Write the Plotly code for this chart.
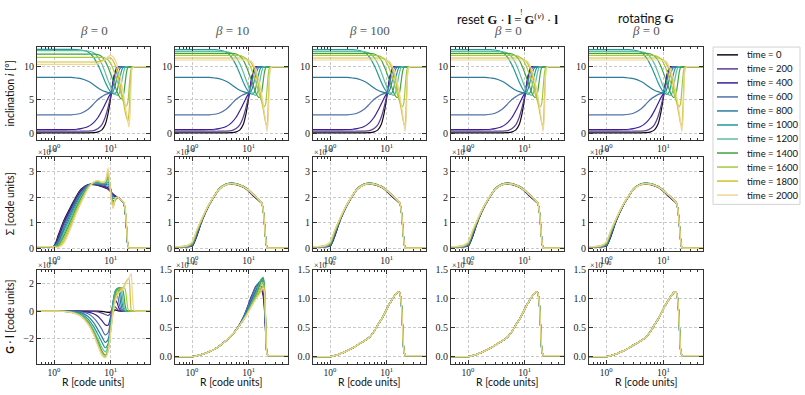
import plotly.graph_objects as go
from plotly.subplots import make_subplots

# radius grid the curves were read on (code units)
R_GRID = [0.5, 0.8, 1.0, 1.2, 1.5, 2.0, 2.5, 3.0, 4.0, 5.0, 6.0, 7.0, 8.0, 9.0, 10.0, 11.0,
          12.0, 13.0, 14.0, 15.0, 16.0, 17.0, 18.0, 19.0, 20.0, 21.0, 22.0, 23.0, 24.0, 26.0, 30.0, 50.0]

TIMES = [0, 200, 400, 600, 800, 1000, 1200, 1400, 1600, 1800, 2000]
LINE_COLORS = ['#0f0a18', '#5d3d8f', '#3a1f9a', '#4f72aa', '#2d7c9c', '#1e9a98',
               '#5ebe9e', '#3fa33f', '#a2cc3e', '#cfc12c', '#efd596']

BETAS = [0, 10, 100, 0, 0]

# inclination [deg], beta = 0
INC_BETA0 = [
    [0.05, 0.05, 0.05, 0.05, 0.05, 0.05, 0.05, 0.05, 0.05, 0.08, 0.2, 0.5, 1.3, 3.0, 5.3, 7.6,
     9.2, 9.9, 10, 10, 10, 10, 10, 10, 10, 10, 10, 10, 10, 10, 10, 10],
    [0.3, 0.3, 0.3, 0.3, 0.3, 0.3, 0.3, 0.3, 0.32, 0.4, 0.7, 1.3, 2.4, 3.9, 5.6, 7.7,
     9.3, 9.95, 10, 10, 10, 10, 10, 10, 10, 10, 10, 10, 10, 10, 10, 10],
    [0.55, 0.55, 0.55, 0.55, 0.55, 0.56, 0.6, 0.7, 1.0, 1.6, 2.4, 3.4, 4.4, 5.3, 6.0, 7.7,
     9.2, 9.9, 10, 10, 10, 10, 10, 10, 10, 10, 10, 10, 10, 10, 10, 10],
    [2.75, 2.75, 2.75, 2.75, 2.75, 2.77, 2.85, 3.0, 3.6, 4.4, 5.1, 5.5, 5.8, 5.95, 6.1, 7.1,
     8.5, 9.5, 9.9, 10, 10, 10, 10, 10, 10, 10, 10, 10, 10, 10, 10, 10],
    [8.4, 8.4, 8.4, 8.4, 8.4, 8.38, 8.3, 8.2, 7.8, 7.3, 6.8, 6.45, 6.25, 6.12, 6.1, 6.3,
     7.2, 8.5, 9.4, 9.85, 10, 10, 10, 10, 10, 10, 10, 10, 10, 10, 10, 10],
    [12.6, 12.6, 12.6, 12.6, 12.6, 12.6, 12.58, 12.5, 12.2, 11.4, 10.2, 8.9, 7.7, 6.8, 6.2, 5.95,
     5.95, 6.5, 7.7, 8.9, 9.7, 10, 10, 10, 10, 10, 10, 10, 10, 10, 10, 10],
    [12.4, 12.4, 12.4, 12.4, 12.4, 12.4, 12.4, 12.4, 12.35, 12.1, 11.4, 10.4, 9.1, 7.9, 7.0, 6.3,
     5.9, 5.7, 5.9, 6.9, 8.2, 9.3, 9.9, 10, 10, 10, 10, 10, 10, 10, 10, 10],
    [11.9, 11.9, 11.9, 11.9, 11.9, 11.9, 11.9, 11.9, 11.9, 11.9, 11.8, 11.5, 10.8, 9.9, 8.9, 7.9,
     7.0, 6.2, 5.6, 5.2, 5.2, 6.0, 7.6, 9.1, 9.9, 10, 10, 10, 10, 10, 10, 10],
    [11.4, 11.4, 11.4, 11.4, 11.4, 11.4, 11.4, 11.4, 11.4, 11.4, 11.4, 11.4, 11.3, 11.0, 10.5, 9.7,
     8.8, 7.9, 7.0, 6.1, 5.3, 4.6, 4.2, 4.1, 4.6, 6.5, 8.6, 9.7, 10, 10, 10, 10],
    [10.7, 10.7, 10.7, 10.7, 10.7, 10.7, 10.7, 10.7, 10.7, 10.7, 10.75, 10.9, 11.1, 11.3, 11.3, 10.9,
     10.2, 9.2, 8.0, 6.8, 5.6, 4.4, 3.2, 2.4, 1.8, 3.0, 6.5, 9.2, 9.9, 10, 10, 10],
    [10.35, 10.35, 10.35, 10.35, 10.35, 10.35, 10.35, 10.35, 10.35, 10.35, 10.45, 10.7, 11.1, 11.5, 11.7, 11.5,
     11.0, 10.2, 9.2, 8.1, 6.9, 5.6, 4.3, 3.0, 1.9, 0.9, 3.0, 8.0, 9.8, 10, 10, 10],
]

# inclination [deg], beta = 10 / 100 / reset / rotating (visually identical)
INC_BETA = INC_BETA0[:5] + [
    [12.55, 12.55, 12.55, 12.55, 12.55, 12.55, 12.55, 12.5, 12.2, 11.4, 10.2, 8.9, 7.7, 6.8, 6.2, 5.9,
     5.9, 6.5, 7.7, 8.9, 9.7, 10, 10, 10, 10, 10, 10, 10, 10, 10, 10, 10],
    [12.3, 12.3, 12.3, 12.3, 12.3, 12.3, 12.3, 12.3, 12.25, 12.0, 11.4, 10.4, 9.2, 8.0, 7.0, 6.3,
     5.9, 5.7, 5.9, 6.9, 8.2, 9.3, 9.9, 10, 10, 10, 10, 10, 10, 10, 10, 10],
    [12.0, 12.0, 12.0, 12.0, 12.0, 12.0, 12.0, 12.0, 12.0, 12.0, 11.9, 11.6, 11.0, 10.1, 9.1, 8.1,
     7.2, 6.3, 5.7, 5.4, 5.4, 6.3, 7.8, 9.2, 9.9, 10, 10, 10, 10, 10, 10, 10],
    [11.7, 11.7, 11.7, 11.7, 11.7, 11.7, 11.7, 11.7, 11.7, 11.7, 11.7, 11.65, 11.5, 11.2, 10.6, 9.8,
     8.9, 8.0, 7.1, 6.2, 5.4, 4.7, 4.2, 4.0, 4.5, 6.5, 8.6, 9.7, 10, 10, 10, 10],
    [11.3, 11.3, 11.3, 11.3, 11.3, 11.3, 11.3, 11.3, 11.3, 11.3, 11.3, 11.3, 11.3, 11.2, 11.0, 10.6,
     10.0, 9.2, 8.2, 7.1, 6.0, 4.8, 3.6, 2.5, 1.5, 1.2, 4.0, 8.0, 9.7, 10, 10, 10],
    [11.0, 11.0, 11.0, 11.0, 11.0, 11.0, 11.0, 11.0, 11.0, 11.0, 11.0, 11.0, 11.0, 11.0, 10.95, 10.8,
     10.4, 9.8, 9.0, 8.0, 6.9, 5.7, 4.4, 3.0, 1.6, 0.3, 2.0, 7.0, 9.7, 10, 10, 10],
]

# surface density, units of 1e-6, beta = 0
SIG_BETA0 = [
    [.08, .08, .10, .55, 1.1, 1.65, 2.05, 2.3, 2.48, 2.48, 2.45, 2.4, 2.35, 2.3, 2.2, 2.12,
     2.05, 2.0, 1.96, 1.9, 1.84, 1.77, 1.45, .8, .15, .03, .02, .02, .02, .02, .02, .02],
    [.08, .08, .09, .48, 1.05, 1.6, 2.0, 2.27, 2.48, 2.49, 2.46, 2.42, 2.37, 2.32, 2.22, 2.1,
     2.04, 2.0, 1.96, 1.9, 1.84, 1.77, 1.45, .8, .15, .03, .02, .02, .02, .02, .02, .02],
    [.08, .08, .09, .40, .98, 1.55, 1.95, 2.23, 2.47, 2.5, 2.48, 2.44, 2.4, 2.36, 2.25, 2.05,
     2.0, 1.98, 1.95, 1.9, 1.84, 1.77, 1.45, .8, .15, .03, .02, .02, .02, .02, .02, .02],
    [.08, .08, .09, .33, .90, 1.48, 1.9, 2.18, 2.46, 2.51, 2.5, 2.47, 2.44, 2.42, 2.3, 1.95,
     1.95, 1.98, 1.95, 1.9, 1.84, 1.77, 1.45, .8, .15, .03, .02, .02, .02, .02, .02, .02],
    [.08, .08, .08, .26, .80, 1.4, 1.83, 2.12, 2.45, 2.52, 2.52, 2.5, 2.48, 2.5, 2.3, 1.85,
     1.9, 1.98, 1.95, 1.9, 1.84, 1.77, 1.45, .8, .15, .03, .02, .02, .02, .02, .02, .02],
    [.08, .08, .08, .2, .7, 1.3, 1.75, 2.07, 2.43, 2.53, 2.54, 2.52, 2.51, 2.58, 2.3, 1.8,
     1.88, 1.97, 1.95, 1.9, 1.84, 1.77, 1.47, .82, .16, .03, .02, .02, .02, .02, .02, .02],
    [.08, .08, .08, .15, .6, 1.2, 1.67, 2.0, 2.41, 2.54, 2.56, 2.54, 2.54, 2.68, 2.3, 1.72,
     1.88, 1.97, 1.95, 1.9, 1.84, 1.78, 1.48, .84, .17, .03, .02, .02, .02, .02, .02, .02],
    [.08, .08, .08, .11, .5, 1.1, 1.6, 1.95, 2.39, 2.55, 2.58, 2.55, 2.56, 2.78, 2.25, 1.66,
     1.9, 1.98, 1.95, 1.9, 1.85, 1.78, 1.5, .86, .18, .03, .02, .02, .02, .02, .02, .02],
    [.08, .08, .08, .09, .4, 1.0, 1.52, 1.88, 2.37, 2.56, 2.6, 2.56, 2.58, 2.9, 2.2, 1.62,
     1.92, 1.99, 1.95, 1.9, 1.85, 1.79, 1.52, .88, .19, .03, .02, .02, .02, .02, .02, .02],
    [.08, .08, .07, .07, .3, .9, 1.45, 1.82, 2.35, 2.57, 2.62, 2.57, 2.6, 3.0, 2.15, 1.58,
     1.94, 2.0, 1.95, 1.9, 1.85, 1.79, 1.54, .9, .2, .03, .02, .02, .02, .02, .02, .02],
    [.08, .08, .06, .05, .22, .82, 1.38, 1.76, 2.33, 2.58, 2.64, 2.57, 2.62, 3.12, 2.1, 1.55,
     1.95, 2.0, 1.95, 1.9, 1.85, 1.8, 1.55, .92, .2, .03, .02, .02, .02, .02, .02, .02],
]

# surface density, units of 1e-6, other runs
SIG_BETA = [
    [.08, .08, .09, .45, 1.08, 1.68, 2.04, 2.3, 2.48, 2.5, 2.48, 2.43, 2.38, 2.31, 2.22, 2.13,
     2.05, 1.98, 1.92, 1.86, 1.81, 1.75, 1.49, .95, .35, .05, .02, .02, .02, .02, .02, .02],
    [.08, .08, .1, .48, 1.09, 1.69, 2.04, 2.3, 2.48, 2.51, 2.49, 2.44, 2.39, 2.32, 2.23, 2.14,
     2.06, 1.99, 1.93, 1.87, 1.81, 1.75, 1.49, .95, .35, .05, .02, .02, .02, .02, .02, .02],
    [.08, .08, .11, .5, 1.1, 1.69, 2.05, 2.3, 2.49, 2.52, 2.5, 2.45, 2.4, 2.33, 2.24, 2.15,
     2.07, 2.0, 1.94, 1.88, 1.82, 1.76, 1.5, .95, .35, .05, .02, .02, .02, .02, .02, .02],
    [.08, .08, .12, .53, 1.11, 1.7, 2.05, 2.31, 2.5, 2.53, 2.51, 2.46, 2.41, 2.34, 2.25, 2.17,
     2.09, 2.02, 1.96, 1.89, 1.83, 1.76, 1.5, .95, .35, .05, .02, .02, .02, .02, .02, .02],
    [.08, .09, .14, .56, 1.12, 1.7, 2.05, 2.31, 2.5, 2.54, 2.52, 2.46, 2.41, 2.34, 2.26, 2.18,
     2.1, 2.03, 1.97, 1.9, 1.84, 1.77, 1.5, .95, .35, .05, .02, .02, .02, .02, .02, .02],
    [.08, .09, .16, .59, 1.13, 1.71, 2.06, 2.31, 2.5, 2.54, 2.52, 2.46, 2.41, 2.34, 2.26, 2.18,
     2.1, 2.03, 1.97, 1.9, 1.84, 1.77, 1.5, .95, .35, .05, .02, .02, .02, .02, .02, .02],
    [.08, .09, .18, .62, 1.14, 1.71, 2.06, 2.31, 2.49, 2.53, 2.51, 2.46, 2.41, 2.34, 2.26, 2.18,
     2.1, 2.03, 1.97, 1.9, 1.84, 1.77, 1.5, .95, .35, .05, .02, .02, .02, .02, .02, .02],
    [.08, .1, .2, .64, 1.15, 1.71, 2.06, 2.31, 2.49, 2.53, 2.51, 2.46, 2.41, 2.34, 2.26, 2.18,
     2.1, 2.03, 1.97, 1.9, 1.84, 1.77, 1.5, .95, .35, .05, .02, .02, .02, .02, .02, .02],
    [.08, .1, .22, .66, 1.16, 1.72, 2.06, 2.3, 2.48, 2.52, 2.5, 2.45, 2.4, 2.33, 2.25, 2.17,
     2.1, 2.03, 1.97, 1.9, 1.84, 1.77, 1.5, .95, .35, .05, .02, .02, .02, .02, .02, .02],
    [.08, .11, .24, .68, 1.17, 1.72, 2.06, 2.3, 2.48, 2.52, 2.5, 2.45, 2.4, 2.33, 2.25, 2.17,
     2.1, 2.03, 1.97, 1.9, 1.84, 1.77, 1.5, .95, .35, .05, .02, .02, .02, .02, .02, .02],
    [.08, .11, .25, .7, 1.18, 1.72, 2.06, 2.3, 2.48, 2.52, 2.5, 2.45, 2.4, 2.33, 2.25, 2.17,
     2.1, 2.03, 1.97, 1.9, 1.84, 1.77, 1.5, .95, .35, .05, .02, .02, .02, .02, .02, .02],
]

# G.l, units of 1e-9, beta = 0
GL_BETA0 = [
    [0, 0, 0, 0, 0, 0, 0, 0, 0, 0, -.01, -.03, -.06, -.1, -.08, .05,
     .08, .04, .01, 0, 0, 0, 0, 0, 0, 0, 0, 0, 0, 0, 0, 0],
    [0, 0, 0, 0, 0, 0, 0, 0, -.01, -.03, -.07, -.15, -.25, -.33, -.15, .2,
     .3, .15, .03, 0, 0, 0, 0, 0, 0, 0, 0, 0, 0, 0, 0, 0],
    [0, 0, 0, 0, 0, 0, 0, -.02, -.08, -.2, -.4, -.7, -1.0, -1.05, -.4, .4,
     .8, .6, .2, .05, 0, 0, 0, 0, 0, 0, 0, 0, 0, 0, 0, 0],
    [0, 0, 0, 0, 0, 0, -.02, -.05, -.2, -.5, -.9, -1.35, -1.75, -1.6, -.6, .6,
     1.2, 1.2, .6, .15, .02, 0, 0, 0, 0, 0, 0, 0, 0, 0, 0, 0],
    [0, 0, 0, 0, 0, -.02, -.06, -.12, -.4, -.85, -1.4, -1.9, -2.3, -2.1, -.8, .7,
     1.45, 1.6, 1.4, .6, .1, 0, 0, 0, 0, 0, 0, 0, 0, 0, 0, 0],
    [0, 0, 0, 0, -.01, -.04, -.1, -.2, -.6, -1.15, -1.75, -2.3, -2.7, -2.4, -1.0, .6,
     1.45, 1.65, 1.65, 1.3, .5, .1, 0, 0, 0, 0, 0, 0, 0, 0, 0, 0],
    [0, 0, 0, 0, -.02, -.06, -.15, -.28, -.75, -1.4, -2.1, -2.7, -3.0, -2.6, -1.2, .4,
     1.35, 1.65, 1.7, 1.65, 1.2, .4, .05, 0, 0, 0, 0, 0, 0, 0, 0, 0],
    [0, 0, 0, 0, -.02, -.08, -.18, -.33, -.85, -1.55, -2.3, -2.95, -3.25, -2.8, -1.3, .2,
     1.2, 1.6, 1.7, 1.7, 1.65, 1.2, .4, .05, 0, 0, 0, 0, 0, 0, 0, 0],
    [0, 0, 0, 0, -.03, -.09, -.2, -.36, -.9, -1.65, -2.45, -3.1, -3.35, -2.9, -1.4, .05,
     1.0, 1.45, 1.6, 1.65, 1.7, 1.75, 1.6, 1.0, .2, 0, 0, 0, 0, 0, 0, 0],
    [0, 0, 0, 0, -.03, -.1, -.22, -.38, -.95, -1.7, -2.55, -3.2, -3.4, -2.95, -1.5, -.1,
     .8, 1.25, 1.45, 1.55, 1.65, 1.8, 2.0, 2.2, 2.35, 2.4, 1.2, .1, 0, 0, 0, 0],
    [0, 0, 0, 0, -.03, -.1, -.23, -.4, -1.0, -1.75, -2.6, -3.25, -3.45, -3.0, -1.55, -.15,
     .7, 1.15, 1.35, 1.45, 1.55, 1.7, 1.9, 2.1, 2.3, 2.45, 2.6, 2.75, 1.4, .05, 0, 0],
]

# G.l, units of 1e-10, beta = 10
GL_BETA10 = [
    [0, 0, .003, .015, .04, .085, .13, .18, .28, .37, .46, .55, .63, .72, .8, .87,
     .94, 1.0, 1.05, 1.09, 1.12, 1.13, 1.05, .8, .35, .05, .02, .02, .02, .02, .02, .02],
    [0, 0, .003, .015, .04, .085, .13, .18, .28, .37, .46, .56, .65, .76, .87, .97,
     1.05, 1.12, 1.16, 1.18, 1.17, 1.15, 1.1, .85, .4, .05, .02, .02, .02, .02, .02, .02],
    [0, 0, .003, .015, .04, .085, .13, .18, .28, .37, .47, .57, .68, .8, .92, 1.03,
     1.12, 1.2, 1.24, 1.25, 1.22, 1.2, 1.15, .9, .4, .05, .02, .02, .02, .02, .02, .02],
    [0, 0, .003, .015, .04, .085, .13, .18, .28, .37, .47, .57, .67, .79, .9, 1.0,
     1.1, 1.18, 1.24, 1.28, 1.3, 1.3, 1.25, 1.0, .45, .05, .02, .02, .02, .02, .02, .02],
    [0, 0, .003, .015, .04, .085, .13, .18, .28, .37, .46, .56, .65, .76, .86, .95,
     1.04, 1.12, 1.2, 1.27, 1.31, 1.33, 1.3, 1.05, .5, .05, .02, .02, .02, .02, .02, .02],
    [0, 0, .003, .015, .04, .085, .13, .18, .28, .37, .46, .55, .64, .74, .83, .91,
     .99, 1.07, 1.15, 1.23, 1.3, 1.35, 1.35, 1.1, .5, .05, .02, .02, .02, .02, .02, .02],
    [0, 0, .003, .015, .04, .085, .13, .18, .28, .37, .46, .55, .64, .73, .81, .89,
     .97, 1.05, 1.13, 1.21, 1.29, 1.35, 1.37, 1.15, .55, .05, .02, .02, .02, .02, .02, .02],
    [0, 0, .003, .015, .04, .085, .13, .18, .28, .37, .46, .55, .63, .72, .8, .88,
     .95, 1.03, 1.1, 1.18, 1.26, 1.33, 1.36, 1.2, .55, .05, .02, .02, .02, .02, .02, .02],
    [0, 0, .003, .015, .04, .085, .13, .18, .28, .37, .46, .55, .63, .71, .79, .87,
     .94, 1.01, 1.07, 1.13, 1.2, 1.26, 1.28, 1.15, .55, .05, .02, .02, .02, .02, .02, .02],
    [0, 0, .003, .015, .04, .085, .13, .18, .28, .37, .46, .55, .63, .71, .79, .86,
     .93, .99, 1.04, 1.09, 1.14, 1.19, 1.22, 1.1, .5, .05, .02, .02, .02, .02, .02, .02],
    [0, 0, .003, .015, .04, .085, .13, .18, .28, .37, .46, .55, .63, .7, .78, .85,
     .92, .97, 1.02, 1.06, 1.1, 1.15, 1.19, 1.1, .5, .05, .02, .02, .02, .02, .02, .02],
]

# G.l, units of 1e-10, beta = 100 / reset / rotating (all times coincide)
GL_BETA = [0, 0, .003, .02, .05, .1, .15, .2, .27, .34, .44, .55, .64, .73, .82, .9,
           .96, 1.02, 1.06, 1.1, 1.12, 1.1, .95, .55, .12, .03, .02, .02, .02, .02, .02, .02]

for series in (INC_BETA0, INC_BETA, SIG_BETA0, SIG_BETA, GL_BETA0, GL_BETA10, [GL_BETA]):
    for ys in series:
        assert len(ys) == len(R_GRID), len(ys)

PANELS = [
    [INC_BETA0, INC_BETA, INC_BETA, INC_BETA, INC_BETA],
    [SIG_BETA0, SIG_BETA, SIG_BETA, SIG_BETA, SIG_BETA],
    [GL_BETA0, GL_BETA10, [GL_BETA] * 11, [GL_BETA] * 11, [GL_BETA] * 11],
]

# ---- layout in pixels of the 805 x 395 canvas
W, H = 805, 395
COL_PX = [(37, 150), (175, 288), (313, 426), (451, 564), (589, 703)]
ROW_PX = [(42, 137), (155, 251), (270, 366)]


def px(x):
    return x / W


def py(y):
    return 1 - y / H


SERIF = "Liberation Serif, DejaVu Serif, serif"
SANS = "Lato, DejaVu Sans, sans-serif"
AX_COLOR = "#333333"
GRID = "#c9c9c9"

fig = make_subplots(rows=3, cols=5)

for r, row in enumerate(PANELS):
    for c, data in enumerate(row):
        for ys, col in zip(data, LINE_COLORS):
            fig.add_trace(go.Scatter(
                x=R_GRID, y=ys, mode="lines",
                line=dict(color=col, width=1.2, shape="spline", smoothing=0.7),
                showlegend=False, hoverinfo="skip",
            ), row=r + 1, col=c + 1)

MINOR_R = [0.6, 0.7, 0.8, 0.9, 2, 3, 4, 5, 6, 7, 8, 9, 20, 30, 40]

for r in range(3):
    for c in range(5):
        fig.update_xaxes(
            row=r + 1, col=c + 1, type="log",
            domain=[px(COL_PX[c][0]), px(COL_PX[c][1])],
            range=[-0.30, 1.693],
            tickvals=[1, 10], ticktext=["10<sup>0</sup>", "10<sup>1</sup>"],
            ticks="inside", ticklen=4, tickcolor=AX_COLOR, ticklabelstandoff=0,
            minor=dict(tickvals=MINOR_R, ticks="inside", ticklen=2, tickcolor=AX_COLOR, showgrid=False),
            showline=True, linecolor=AX_COLOR, linewidth=1, mirror="ticks",
            showgrid=True, gridcolor=GRID, griddash="3px,2px", gridwidth=0.8,
            zeroline=False, tickfont=dict(family=SERIF, size=9.5, color="#222"),
        )
        if r == 0:
            yr, tv, tt = [-1.0, 12.95], [0, 5, 10], ["0", "5", "10"]
        elif r == 1:
            yr, tv, tt = [-0.1, 3.53], [0, 1, 2, 3], ["0", "1", "2", "3"]
        elif c == 0:
            yr, tv, tt = [-3.87, 3.03], [-2, 0, 2], ["\u22122", "0", "2"]
        else:
            yr, tv, tt = [-0.12, 1.5], [0, 0.5, 1.0, 1.5], ["0.0", "0.5", "1.0", "1.5"]
        fig.update_yaxes(
            row=r + 1, col=c + 1,
            domain=[py(ROW_PX[r][1]), py(ROW_PX[r][0])],
            range=yr, tickvals=tv, ticktext=tt,
            ticks="inside", ticklen=4, tickcolor=AX_COLOR,
            showline=True, linecolor=AX_COLOR, linewidth=1, mirror="ticks",
            showgrid=True, gridcolor=GRID, griddash="3px,2px", gridwidth=0.8,
            zeroline=False, tickfont=dict(family=SERIF, size=10, color="#222"),
        )

ann = []
# column titles
for c in range(5):
    cx = px((COL_PX[c][0] + COL_PX[c][1]) / 2)
    ann.append(dict(text=f"<i>\u03b2</i> = {BETAS[c]}", x=cx, y=py(25), xanchor="center", yanchor="middle",
                    font=dict(family=SERIF, size=13, color="#555")))
ann.append(dict(
    text="reset <span style='font-family:Liberation Serif'><b>G</b> \u00b7 <b>l</b> = <b>G</b>"
         "<sup>(<i>v</i>)</sup> \u00b7 <b>l</b></span>",
    x=px(507.5), y=py(13), xanchor="center", yanchor="middle",
    font=dict(family=SANS, size=12.5, color="#111")))
ann.append(dict(text="!", x=px(521.5), y=py(6.5), xanchor="center", yanchor="middle",
                font=dict(family=SERIF, size=8, color="#111")))
ann.append(dict(
    text="rotating <span style='font-family:Liberation Serif'><b>G</b></span>",
    x=px(646), y=py(13), xanchor="center", yanchor="middle",
    font=dict(family=SANS, size=12.5, color="#111")))

# row labels
ROW_LABELS = ["inclination <i>i</i> [\u00b0]", "\u03a3 [code units]", "<b>G</b> \u00b7 <b>l</b> [code units]"]
for r, lab in enumerate(ROW_LABELS):
    ann.append(dict(text=lab, x=px(10), y=py((ROW_PX[r][0] + ROW_PX[r][1]) / 2), textangle=-90,
                    xanchor="center", yanchor="middle", font=dict(family=SANS, size=10.5, color="#111")))

# x labels
for c in range(5):
    ann.append(dict(text="R [code units]", x=px((COL_PX[c][0] + COL_PX[c][1]) / 2), y=py(385),
                    xanchor="center", yanchor="middle", font=dict(family=SANS, size=10.5, color="#111")))

# offset (exponent) labels
for c in range(5):
    ann.append(dict(text="\u00d710<sup>\u22126</sup>", x=px(COL_PX[c][0] - 1), y=py(157), xanchor="left",
                    yanchor="bottom", font=dict(family=SERIF, size=8, color="#222")))
    exp = "\u22129" if c == 0 else "\u221210"
    ann.append(dict(text=f"\u00d710<sup>{exp}</sup>", x=px(COL_PX[c][0] - 1), y=py(272), xanchor="left",
                    yanchor="bottom", font=dict(family=SERIF, size=8, color="#222")))

# legend drawn by hand to match the tight matplotlib spacing
shapes = [dict(type="rect", xref="paper", yref="paper", x0=px(713), x1=px(800), y0=py(203), y1=py(42),
               line=dict(color="#d3d3d3", width=1), fillcolor="white", layer="below")]
for k, (t, col) in enumerate(zip(TIMES, LINE_COLORS)):
    yk = 50 + 14.35 * k
    shapes.append(dict(type="line", xref="paper", yref="paper", x0=px(717), x1=px(738), y0=py(yk), y1=py(yk),
                       line=dict(color=col, width=1.5)))
    ann.append(dict(text=f"time = {t}", x=px(745), y=py(yk), xanchor="left", yanchor="middle",
                    font=dict(family=SANS, size=9.5, color="#111")))

for a in ann:
    a.setdefault("xref", "paper")
    a.setdefault("yref", "paper")
    a.setdefault("showarrow", False)

fig.update_layout(
    width=W, height=H,
    margin=dict(l=0, r=0, t=0, b=0),
    paper_bgcolor="white", plot_bgcolor="white",
    annotations=ann, shapes=shapes,
    showlegend=False,
)

# drop the default 8px body margin so the figure sits at the page origin
fig.write_html("out.html", config={"displayModeBar": False},
               post_script="document.body.style.margin='0px';")
